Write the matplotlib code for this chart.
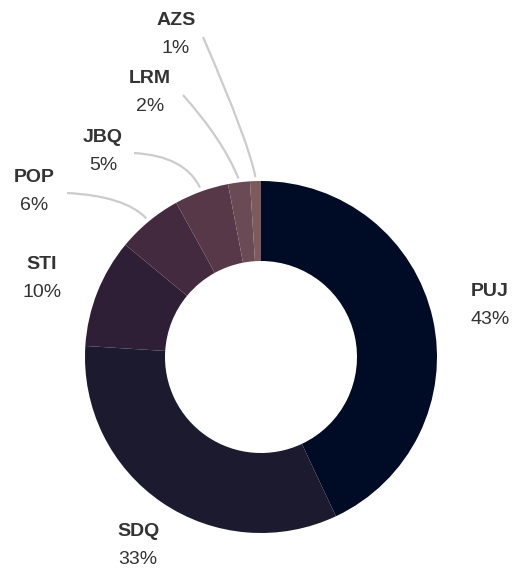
import numpy as np
import matplotlib
matplotlib.use("Agg")
import matplotlib.pyplot as plt
from matplotlib.path import Path
from matplotlib.patches import PathPatch

labels = ["PUJ", "SDQ", "STI", "POP", "JBQ", "LRM", "AZS"]
values = [43, 33, 10, 6, 5, 2, 1]
colors = ["#000c25", "#1b1a2f", "#2e1f37", "#432a3f", "#573848", "#6a4a54", "#7d5a5c"]

W, H = 512, 569
fig = plt.figure(figsize=(W / 100, H / 100), dpi=100)
ax = fig.add_axes([0, 0, 1, 1])

cx, cy = 261, H - 357
r_out, r_in = 176, 96

ax.pie(values, colors=colors, startangle=90, counterclock=False,
       radius=r_out, center=(cx, cy),
       wedgeprops=dict(width=r_out - r_in, linewidth=0))
ax.set_xlim(0, W)
ax.set_ylim(0, H)
ax.set_aspect("auto")
ax.axis("off")

# label placement (pixel coords, y from top): name center
label_pos = {
    "PUJ": (490, 291),
    "SDQ": (138, 531),
    "STI": (42, 264),
    "POP": (34, 177),
    "JBQ": (103, 137),
    "LRM": (150, 78),
    "AZS": (176, 20),
}
# leader lines: (start point, control point) in pixel coords (y from top)
leaders = {
    "POP": ((67, 193), (125, 196)),
    "JBQ": ((134, 153), (185, 156)),
    "LRM": ((183, 95), (223, 140)),
    "AZS": ((203, 37), (250, 145)),
}

total = sum(values)
cum = 0
for lab, v in zip(labels, values):
    mid = 90 - 360 * (cum + v / 2) / total
    cum += v
    x, y = label_pos[lab]
    ax.text(x, H - y, lab, ha="center", va="center", fontsize=14,
            fontweight="bold", color="#333333", family="Liberation Sans")
    ax.text(x, H - y - 28, f"{v}%", ha="center", va="center", fontsize=14,
            color="#333333", family="Liberation Sans")
    if lab in leaders:
        (sx, sy), (qx, qy) = leaders[lab]
        rr = r_out + 4
        ex = cx + rr * np.cos(np.radians(mid))
        ey = cy + rr * np.sin(np.radians(mid))
        path = Path([(sx, H - sy), (qx, H - qy), (ex, ey)],
                    [Path.MOVETO, Path.CURVE3, Path.CURVE3])
        ax.add_patch(PathPatch(path, facecolor="none", edgecolor="#cccccc", lw=1.6))

fig.savefig("out.png", dpi=100)
